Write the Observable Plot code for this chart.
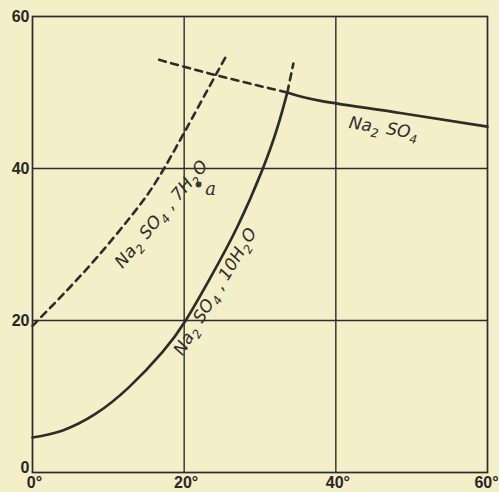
<!DOCTYPE html>
<html><head><meta charset="utf-8">
<script src="https://cdn.jsdelivr.net/npm/d3@7"></script>
<script src="https://cdn.jsdelivr.net/npm/@observablehq/plot@0.6"></script>
<style>body{margin:0;background:#f3efc9}</style>
</head><body><div id="chart"></div>
<script>
// Na2SO4·10H2O solubility curve (stable)
const decaT = [0, 3.9, 8.3, 12.7, 17.1, 20.2, 23.5, 27.0, 30.3, 32.3, 33.6];
const decaV = [4.6, 5.5, 7.7, 11.2, 15.8, 20, 25.7, 32.3, 39.8, 45.4, 50];
// metastable continuation of 10H2O curve
const decaMetaT = [33.6, 34.4];
const decaMetaV = [50, 53.8];
// anhydrous Na2SO4 curve
const anhT = [33.6, 38, 48.5, 60];
const anhV = [50, 48.9, 47.3, 45.5];
// metastable continuation of anhydrous curve
const anhMetaT = [16.7, 24.5, 33.6];
const anhMetaV = [54.3, 52.2, 50];
// Na2SO4·7H2O curve (metastable)
const heptaT = [0, 4.1, 8.5, 12.9, 16.5, 20.6, 23.5, 25.7];
const heptaV = [19.3, 23.5, 28.3, 33.6, 38.6, 45.8, 51.1, 55.1];
// point a
const pointA = [{T: 21.9, V: 37.9, label: "a"}];
// labels
const labels = [
  {T: 46.4, V: 45.3, text: "Na₂ SO₄", rot: 9},
  {T: 17.0, V: 34.0, text: "Na₂ SO₄ , 7H₂O", rot: -50},
  {T: 24.1, V: 23.8, text: "Na₂ SO₄ , 10H₂O", rot: -59}
];
const xTicks = [0, 20, 40, 60];
const yTicks = [0, 20, 40, 60];

const toPts = (ts, vs) => ts.map((t, i) => ({T: t, V: vs[i]}));
const ink = "#2f2b28";
const dash = "7,5.5";
const axisStyle = {tickSize: 0, fontSize: 16, fontWeight: "bold", fill: "#2a2624", label: null};

const chart = Plot.plot({
  width: 499, height: 492,
  marginLeft: 32, marginRight: 12, marginTop: 16, marginBottom: 20,
  style: {background: "#f3efc9", fontFamily: "'Liberation Sans', Arial, sans-serif"},
  x: {domain: [0, 60]},
  y: {domain: [0, 60]},
  marks: [
    Plot.ruleX([20, 40], {stroke: ink, strokeWidth: 1.4}),
    Plot.ruleY([20, 40], {stroke: ink, strokeWidth: 1.4}),
    Plot.frame({stroke: ink, strokeWidth: 1.7}),
    Plot.line(toPts(heptaT, heptaV), {x: "T", y: "V", curve: "natural", stroke: ink, strokeWidth: 2.6, strokeDasharray: dash}),
    Plot.line(toPts(anhMetaT, anhMetaV), {x: "T", y: "V", curve: "natural", stroke: ink, strokeWidth: 2.6, strokeDasharray: dash}),
    Plot.line(toPts(decaMetaT, decaMetaV), {x: "T", y: "V", stroke: ink, strokeWidth: 2.6, strokeDasharray: dash}),
    Plot.line(toPts(decaT, decaV), {x: "T", y: "V", curve: "natural", stroke: ink, strokeWidth: 2.7}),
    Plot.line(toPts(anhT, anhV), {x: "T", y: "V", curve: "natural", stroke: ink, strokeWidth: 2.7}),
    Plot.dot(pointA, {x: "T", y: "V", r: 3, fill: "#4a4540", stroke: "none"}),
    Plot.text(pointA, {x: "T", y: "V", text: "label", dx: 12, dy: 5, fontSize: 18, fontStyle: "italic", fontFamily: "'DejaVu Serif', serif", fill: ink}),
    ...labels.map(l => Plot.text([l], {x: "T", y: "V", text: "text", rotate: l.rot, fontSize: 17, fontStyle: "italic", fontFamily: "'DejaVu Sans', sans-serif", fill: ink, textAnchor: "middle", lineAnchor: "middle", className: "chem"})),
    Plot.axisY(yTicks.filter(d => d > 0), {...axisStyle, tickPadding: 3}),
    Plot.axisY(yTicks.filter(d => d === 0), {...axisStyle, tickPadding: 3, dy: -5}),
    Plot.axisX(xTicks.filter(d => d < 60), {...axisStyle, tickPadding: 4, tickFormat: d => d + "°", dx: 2}),
    Plot.axisX(xTicks.filter(d => d === 60), {...axisStyle, tickPadding: 4, tickFormat: d => d + "°", dx: -1})
  ]
});
// render subscript digits as shifted, smaller tspans
const subMap = {"₂": "2", "₄": "4"};
chart.querySelectorAll("g.chem text").forEach(t => {
  const s = t.textContent;
  t.textContent = "";
  let buf = "";
  const flush = () => { if (buf) { const sp = document.createElementNS("http://www.w3.org/2000/svg", "tspan"); sp.textContent = buf; t.appendChild(sp); buf = ""; } };
  for (const ch of s) {
    if (subMap[ch]) {
      flush();
      const sp = document.createElementNS("http://www.w3.org/2000/svg", "tspan");
      sp.setAttribute("dy", "5");
      sp.setAttribute("font-size", "12");
      sp.textContent = subMap[ch];
      t.appendChild(sp);
      const back = document.createElementNS("http://www.w3.org/2000/svg", "tspan");
      back.setAttribute("dy", "-5");
      back.textContent = "\u200A";
      t.appendChild(back);
    } else buf += ch;
  }
  flush();
});
document.getElementById("chart").appendChild(chart);
</script>
</body></html>
